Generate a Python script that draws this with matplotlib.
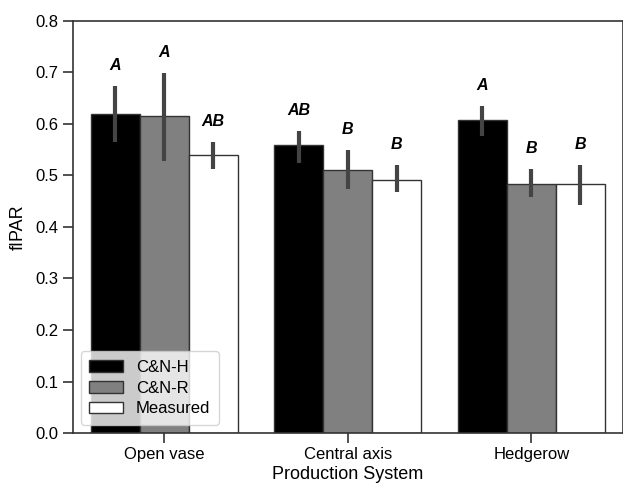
import matplotlib
matplotlib.use("Agg")
import matplotlib.pyplot as plt
import numpy as np

plt.rcParams['font.family'] = ['Liberation Sans', 'DejaVu Sans']

# data
systems = ["Open vase", "Central axis", "Hedgerow"]
series = ["C&N-H", "C&N-R", "Measured"]
means = {
    "C&N-H": [0.619, 0.559, 0.608],
    "C&N-R": [0.615, 0.511, 0.484],
    "Measured": [0.539, 0.492, 0.484],
}
err_lo = {
    "C&N-H": [0.564, 0.525, 0.577],
    "C&N-R": [0.529, 0.473, 0.459],
    "Measured": [0.513, 0.467, 0.442],
}
err_hi = {
    "C&N-H": [0.674, 0.587, 0.635],
    "C&N-R": [0.699, 0.550, 0.512],
    "Measured": [0.565, 0.520, 0.520],
}
letters = {
    "C&N-H": ["A", "AB", "A"],
    "C&N-R": ["A", "B", "B"],
    "Measured": ["AB", "B", "B"],
}
colors = {"C&N-H": "black", "C&N-R": "#808080", "Measured": "white"}

fig = plt.figure(figsize=(6.23, 4.86), dpi=100)
ax = fig.add_axes([0.1165, 0.109, 0.8835, 0.848])

x = np.arange(len(systems))
width = 0.8 / len(series)

for i, s in enumerate(series):
    pos = x - 0.4 + width * (i + 0.5)
    ax.bar(pos, means[s], width=width, color=colors[s], edgecolor="#333333",
           linewidth=1.0, label=s, zorder=2)
    for p, lo, hi, lab in zip(pos, err_lo[s], err_hi[s], letters[s]):
        ax.plot([p, p], [lo, hi], color="#444444", linewidth=3, zorder=3,
                solid_capstyle="butt")
        ax.text(p, hi + 0.04, lab, ha="center", va="center", fontsize=11.5,
                fontweight="bold", fontstyle="italic", color="black")

ax.set_xlim(-0.5, 2.5)
ax.set_ylim(0, 0.8)
ax.set_xticks(x)
ax.set_xticklabels(systems, fontsize=12)
ax.set_yticks(np.arange(0, 0.81, 0.1))
ax.set_yticklabels([f"{v:.1f}" for v in np.arange(0, 0.81, 0.1)], fontsize=12)
ax.set_xlabel("Production System", fontsize=13, labelpad=3)
ax.set_ylabel("fIPAR", fontsize=13, labelpad=6)
ax.tick_params(length=7, width=1.2, color="#333333", pad=3)
for sp in ax.spines.values():
    sp.set_linewidth(1.2)
    sp.set_color("#333333")

ax.legend(loc="lower left", fontsize=12, framealpha=0.8, edgecolor="#cccccc",
          handlelength=2.0, borderpad=0.5, labelspacing=0.35)

fig.savefig("out.png", dpi=100)
